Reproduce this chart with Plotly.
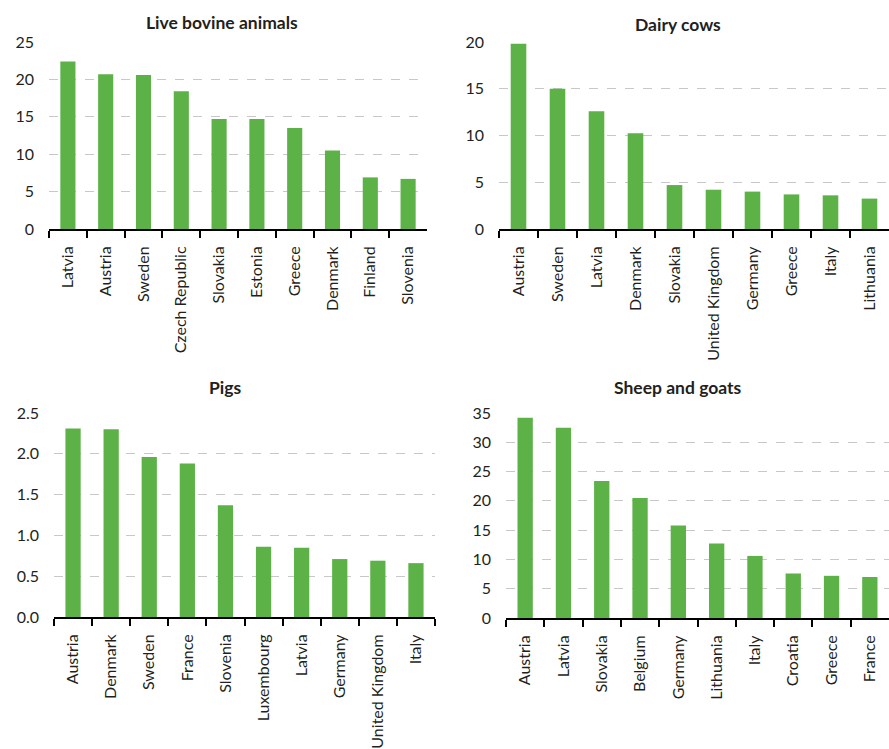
import plotly.graph_objects as go

# ---- data ----
bovine_countries = ["Latvia", "Austria", "Sweden", "Czech Republic", "Slovakia",
                    "Estonia", "Greece", "Denmark", "Finland", "Slovenia"]
bovine_values = [22.4, 20.7, 20.6, 18.4, 14.7, 14.7, 13.5, 10.5, 6.9, 6.7]

dairy_countries = ["Austria", "Sweden", "Latvia", "Denmark", "Slovakia",
                   "United Kingdom", "Germany", "Greece", "Italy", "Lithuania"]
dairy_values = [19.8, 15.0, 12.6, 10.25, 4.7, 4.2, 4.0, 3.7, 3.6, 3.25]

pigs_countries = ["Austria", "Denmark", "Sweden", "France", "Slovenia",
                  "Luxembourg", "Latvia", "Germany", "United Kingdom", "Italy"]
pigs_values = [2.31, 2.30, 1.96, 1.88, 1.37, 0.86, 0.85, 0.71, 0.69, 0.66]

sheep_countries = ["Austria", "Latvia", "Slovakia", "Belgium", "Germany",
                   "Lithuania", "Italy", "Croatia", "Greece", "France"]
sheep_values = [34.2, 32.5, 23.4, 20.5, 15.8, 12.7, 10.6, 7.6, 7.2, 7.0]

titles = ["Live bovine animals", "Dairy cows", "Pigs", "Sheep and goats"]
y_ticks = [[0, 5, 10, 15, 20, 25],
           [0, 5, 10, 15, 20],
           [0, 0.5, 1.0, 1.5, 2.0, 2.5],
           [0, 5, 10, 15, 20, 25, 30, 35]]
y_ticktext = [["0", "5", "10", "15", "20", "25"],
              ["0", "5", "10", "15", "20"],
              ["0.0", "0.5", "1.0", "1.5", "2.0", "2.5"],
              ["0", "5", "10", "15", "20", "25", "30", "35"]]

# ---- layout geometry ----
W, H = 889, 749
FONT = "Lato"
GREEN = "#5cb247"
TXT = "#231f20"

panels = [
    (bovine_countries, bovine_values, (49, 427), (229, 42), (222, 22)),
    (dairy_countries, dairy_values, (499, 889), (229, 42), (678, 24)),
    (pigs_countries, pigs_values, (54, 435), (617, 413), (225, 387)),
    (sheep_countries, sheep_values, (506, 889), (618, 413), (678, 387)),
]

fig = go.Figure()
annotations = []
for i, (cats, vals, (x0, x1), (y0, y1), (tx, ty)) in enumerate(panels):
    n = "" if i == 0 else str(i + 1)
    fig.add_trace(go.Bar(x=cats, y=vals, marker=dict(color=GREEN, line=dict(width=0)),
                         xaxis="x" + n, yaxis="y" + n, showlegend=False))
    fig.layout["xaxis" + n] = dict(
        domain=[x0 / W, min(x1 / W, 1.0)], anchor="y" + n,
        type="category", range=[-0.5, 9.5], automargin=False,
        showline=True, linecolor="black", linewidth=2,
        ticks="outside", tickson="boundaries", ticklen=7, tickwidth=2, tickcolor="black",
        tickangle=-90, showgrid=False, ticklabelstandoff=9,
        tickfont=dict(family=FONT, size=16, color=TXT),
    )
    top = y_ticks[i][-1]
    fig.layout["yaxis" + n] = dict(
        domain=[1 - y0 / H, 1 - y1 / H], anchor="x" + n,
        range=[0, top], tickvals=y_ticks[i], ticktext=y_ticktext[i], automargin=False,
        showline=False, zeroline=False, ticks="",
        showgrid=True, gridcolor="#c8c8c8", gridwidth=1, griddash="dash",
        ticklabelstandoff=14,
        tickfont=dict(family=FONT, size=16, color=TXT),
    )
    annotations.append(dict(text="<b>" + titles[i] + "</b>", x=tx / W, y=1 - ty / H,
                            xref="paper", yref="paper", showarrow=False,
                            xanchor="center", yanchor="middle",
                            font=dict(family=FONT, size=17.5, color=TXT)))

fig.update_layout(
    width=W, height=H, margin=dict(l=0, r=0, t=0, b=0),
    paper_bgcolor="white", plot_bgcolor="white",
    bargap=0.6, annotations=annotations,
    font=dict(family=FONT, color=TXT),
)

fig.write_html("out.html", config={"displayModeBar": False},
               post_script="document.body.style.margin='0';document.body.style.overflow='hidden';")
